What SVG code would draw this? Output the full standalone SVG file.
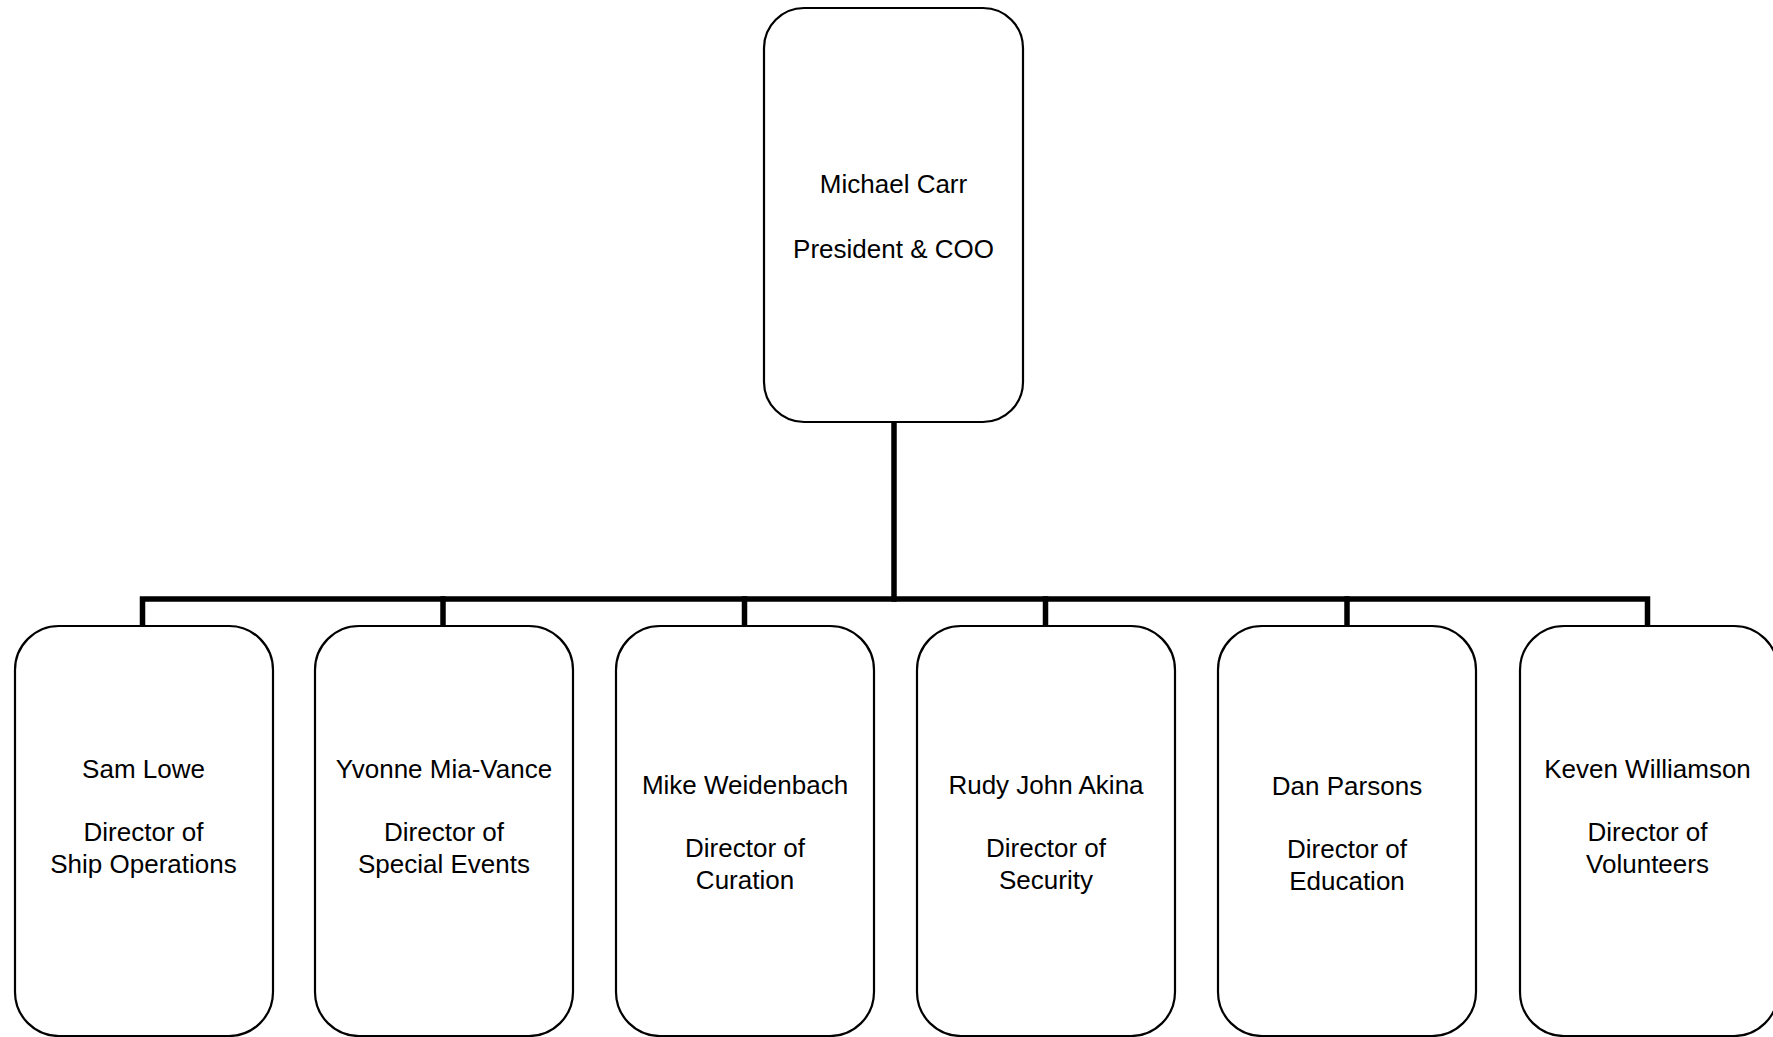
<svg xmlns="http://www.w3.org/2000/svg" width="1773" height="1037" viewBox="0 0 1773 1037">
  <style>
    .box { fill: #ffffff; stroke: #000000; stroke-width: 2.2; }
    .lbl { font-family: "Liberation Sans", Arial, sans-serif; font-size: 26px; fill: #000000; text-anchor: middle; }
    .wire { fill: none; stroke: #000000; stroke-width: 5.5; stroke-linecap: square; }
  </style>
  <rect width="1773" height="1037" fill="#ffffff"/>

  <!-- reporting lines -->
  <g id="connectors">
    <path class="wire" d="M894 422 V599"/>
    <path class="wire" d="M142.5 626 V599 H1647.5 V626"/>
    <path class="wire" d="M443 599 V626"/>
    <path class="wire" d="M744.5 599 V626"/>
    <path class="wire" d="M1045.5 599 V626"/>
    <path class="wire" d="M1347 599 V626"/>
  </g>

  <g id="node-carr">
    <rect class="box" x="764" y="8" width="259" height="414" rx="40" ry="40"/>
    <text class="lbl" x="893.5" y="193">Michael Carr</text>
    <text class="lbl" x="893.5" y="258">President &amp; COO</text>
  </g>

  <g id="node-lowe">
    <rect class="box" x="15" y="626" width="258" height="410" rx="44" ry="44"/>
    <text class="lbl" x="143.5" y="778">Sam Lowe</text>
    <text class="lbl" x="143.5" y="841">Director of</text>
    <text class="lbl" x="143.5" y="873">Ship Operations</text>
  </g>

  <g id="node-mia-vance">
    <rect class="box" x="315" y="626" width="258" height="410" rx="44" ry="44"/>
    <text class="lbl" x="444" y="778">Yvonne Mia-Vance</text>
    <text class="lbl" x="444" y="841">Director of</text>
    <text class="lbl" x="444" y="873">Special Events</text>
  </g>

  <g id="node-weidenbach">
    <rect class="box" x="616" y="626" width="258" height="410" rx="44" ry="44"/>
    <text class="lbl" x="745" y="794">Mike Weidenbach</text>
    <text class="lbl" x="745" y="857">Director of</text>
    <text class="lbl" x="745" y="889">Curation</text>
  </g>

  <g id="node-akina">
    <rect class="box" x="917" y="626" width="258" height="410" rx="44" ry="44"/>
    <text class="lbl" x="1046" y="794">Rudy John Akina</text>
    <text class="lbl" x="1046" y="857">Director of</text>
    <text class="lbl" x="1046" y="889">Security</text>
  </g>

  <g id="node-parsons">
    <rect class="box" x="1218" y="626" width="258" height="410" rx="44" ry="44"/>
    <text class="lbl" x="1347" y="795">Dan Parsons</text>
    <text class="lbl" x="1347" y="858">Director of</text>
    <text class="lbl" x="1347" y="890">Education</text>
  </g>

  <g id="node-williamson">
    <rect class="box" x="1520" y="626" width="258" height="410" rx="44" ry="44"/>
    <text class="lbl" x="1647.5" y="778">Keven Williamson</text>
    <text class="lbl" x="1647.5" y="841">Director of</text>
    <text class="lbl" x="1647.5" y="873">Volunteers</text>
  </g>
</svg>
